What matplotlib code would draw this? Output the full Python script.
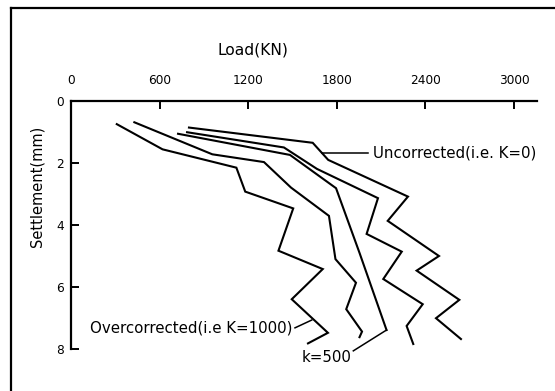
import matplotlib
matplotlib.use("Agg")
import matplotlib.pyplot as plt
from matplotlib.lines import Line2D

plt.rcParams['font.family'] = ['DejaVu Sans']

# ---- data (Load in KN, Settlement in mm) ----
load_k1000 = [310, 620, 1120, 1180, 1505, 1405, 1705, 1495, 1740, 1605]
sett_k1000 = [0.76, 1.57, 2.16, 2.93, 3.47, 4.83, 5.42, 6.39, 7.47, 7.81]

load_b = [429, 957, 1307, 1490, 1747, 1791, 1930, 1864, 1971, 1954]
sett_b = [0.70, 1.73, 1.98, 2.80, 3.71, 5.10, 5.86, 6.71, 7.43, 7.61]

load_k500 = [725, 1483, 1795, 1954, 2137]
sett_k500 = [1.07, 1.75, 2.82, 4.90, 7.38]

load_d = [786, 1442, 1666, 2079, 2002, 2240, 2115, 2382, 2273, 2318]
sett_d = [1.02, 1.51, 2.20, 3.14, 4.29, 4.86, 5.74, 6.55, 7.25, 7.83]

load_k0 = [799, 1637, 1742, 2282, 2145, 2492, 2341, 2630, 2472, 2641]
sett_k0 = [0.87, 1.36, 1.91, 3.09, 3.87, 5.00, 5.47, 6.41, 7.00, 7.67]

x_ticks = [0, 600, 1200, 1800, 2400, 3000]
y_ticks = [0, 2, 4, 6, 8]

W, H = 555, 391
fig = plt.figure(figsize=(W / 100, H / 100), dpi=100)
ax = fig.add_axes([71 / W, 1 - 349.3 / H, (537 - 71) / W, (349.3 - 100.5) / H])

lw = 1.5
for xs, ys in [(load_k1000, sett_k1000), (load_b, sett_b), (load_k500, sett_k500),
               (load_d, sett_d), (load_k0, sett_k0)]:
    ax.plot(xs, ys, color='black', lw=lw, solid_joinstyle='miter')

ax.set_xlim(0, 3156)
ax.set_ylim(8, 0)

for s in ['right', 'bottom']:
    ax.spines[s].set_visible(False)
for s in ['left', 'top']:
    ax.spines[s].set_linewidth(1.6)

ax.xaxis.tick_top()
ax.set_xticks(x_ticks)
ax.set_yticks(y_ticks)
ax.tick_params(axis='x', direction='in', length=6, width=1.4, pad=10, labelsize=8.7)
ax.tick_params(axis='y', direction='in', length=6, width=1.4, pad=5, labelsize=8.7)

fs = 10.8
ax.set_xlabel('Load(KN)', fontsize=11.2)
ax.xaxis.set_label_position('top')
ax.xaxis.set_label_coords((253 - 71) / 466, 1 + 50.5 / 248.8)
ax.xaxis.label.set_va('center')
ax.set_ylabel('Settlement(mm)', fontsize=10.5)
ax.yaxis.set_label_coords((37 - 71) / 466, (349.3 - 186) / 248.8)
ax.yaxis.label.set_va('center')

ann = dict(color='black', lw=1.1, clip_on=False)
# Uncorrected label
ax.plot([1702, 2011], [1.70, 1.70], **ann)
ax.text(2045, 1.70, 'Uncorrected(i.e. K=0)', fontsize=fs, va='center', ha='left')
# Overcorrected label
ax.plot([1517, 1630], [7.31, 7.06], **ann)
ax.text(1497, 7.30, 'Overcorrected(i.e K=1000)', fontsize=fs, va='center', ha='right')
# k=500 label
ax.plot([1912, 2137], [8.05, 7.38], **ann)
ax.text(1730, 8.25, 'k=500', fontsize=fs, va='center', ha='center', clip_on=False)

# outer frame (top and left only)
fig.add_artist(Line2D([11 / W, 1], [1 - 8 / H, 1 - 8 / H], color='black', lw=1.6))
fig.add_artist(Line2D([11 / W, 11 / W], [0, 1 - 8 / H], color='black', lw=1.6))

fig.savefig('out.png', dpi=100)
